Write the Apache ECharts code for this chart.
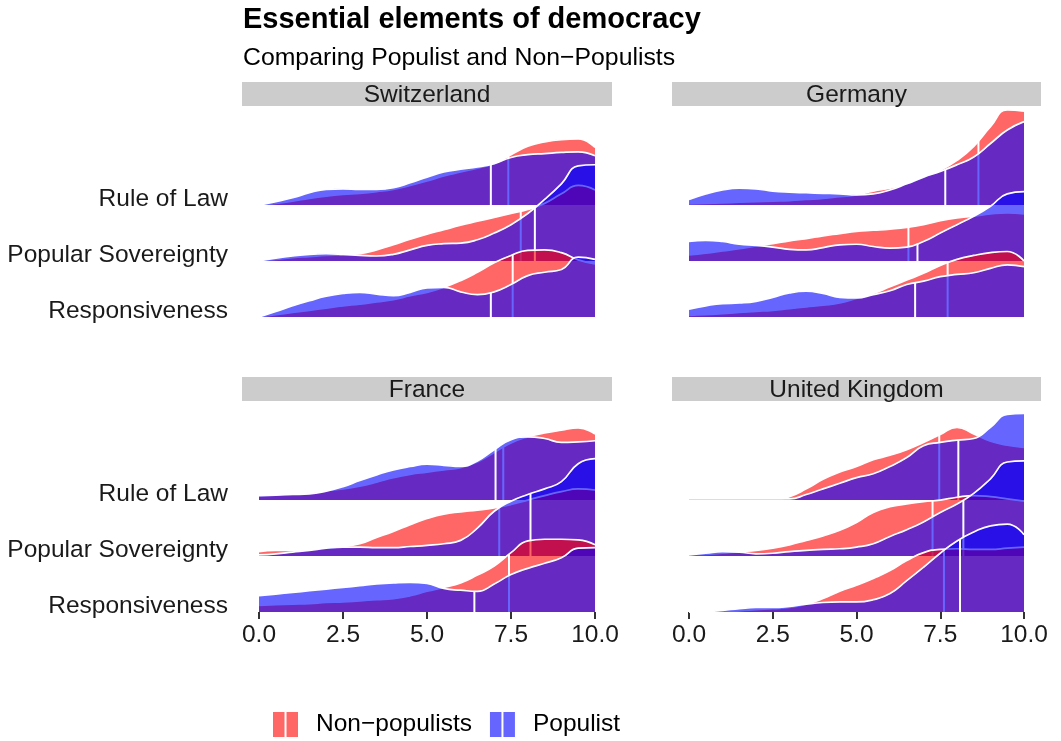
<!DOCTYPE html>
<html>
<head>
<meta charset="utf-8">
<script src="https://cdn.jsdelivr.net/npm/echarts@6/dist/echarts.min.js"></script>
<style>
  html, body { margin: 0; padding: 0; background: #fff; }
  #chart { width: 1061px; height: 741px; }
</style>
</head>
<body>
<div id="chart"></div>
<script>
// density grid (score 0..10)
const xs = [0, 0.5, 1, 1.5, 2, 2.5, 3, 3.5, 4, 4.5, 5, 5.5, 6, 6.5, 7, 7.5, 8, 8.5, 9, 9.5, 10];
const xTicks = [0, 2.5, 5, 7.5, 10];

const countries = ['Switzerland', 'Germany', 'France', 'United Kingdom'];
// ridges top -> bottom, sitting on y = 3, 2, 1
const ridgeNames = ['Rule of Law', 'Popular Sovereignty', 'Responsiveness'];
const ridgeBase = [3, 2, 1];
const groups = ['Non\u2212populists', 'Populist'];

// Switzerland
const chRuleNon = [0, 0.03, 0.07, 0.12, 0.16, 0.19, 0.21, 0.24, 0.28, 0.35, 0.43, 0.52, 0.59, 0.66, 0.74, 0.90, 1.05, 1.13, 1.17, 1.18, 1.03];
const chRulePop = [0, 0.06, 0.13, 0.22, 0.28, 0.29, 0.28, 0.28, 0.31, 0.40, 0.50, 0.59, 0.64, 0.68, 0.74, 0.85, 0.90, 0.92, 0.94, 0.95, 0.88];
const chSovNon  = [0, 0.03, 0.06, 0.08, 0.10, 0.11, 0.13, 0.20, 0.29, 0.39, 0.48, 0.56, 0.64, 0.71, 0.78, 0.85, 0.92, 1.03, 1.20, 1.35, 1.27];
const chSovPop  = [0, 0.05, 0.09, 0.12, 0.13, 0.12, 0.10, 0.09, 0.12, 0.20, 0.28, 0.31, 0.32, 0.38, 0.50, 0.65, 0.85, 1.10, 1.38, 1.70, 1.72];
const chRespNon = [0, 0.04, 0.08, 0.12, 0.16, 0.20, 0.23, 0.27, 0.31, 0.38, 0.44, 0.53, 0.65, 0.80, 0.97, 1.10, 1.19, 1.20, 1.15, 1.02, 0.95];
const chRespPop = [0, 0.10, 0.20, 0.29, 0.37, 0.42, 0.44, 0.41, 0.38, 0.44, 0.52, 0.53, 0.45, 0.40, 0.45, 0.58, 0.74, 0.80, 0.85, 1.07, 1.03];
const chMedNon = [7.42, 7.79, 7.55];
const chMedPop = [6.90, 8.21, 6.90];

// Germany
const deRuleNon = [0.02, 0.03, 0.04, 0.05, 0.06, 0.07, 0.08, 0.10, 0.12, 0.15, 0.18, 0.25, 0.30, 0.38, 0.50, 0.62, 0.80, 1.05, 1.40, 1.70, 1.68];
const deRulePop = [0.10, 0.20, 0.27, 0.30, 0.29, 0.25, 0.23, 0.22, 0.21, 0.20, 0.18, 0.20, 0.27, 0.38, 0.50, 0.60, 0.72, 0.86, 1.10, 1.34, 1.49];
const deSovNon  = [0.11, 0.14, 0.18, 0.22, 0.27, 0.31, 0.36, 0.40, 0.45, 0.49, 0.53, 0.55, 0.57, 0.60, 0.65, 0.72, 0.77, 0.80, 0.84, 0.86, 0.84];
const deSovPop  = [0.35, 0.37, 0.35, 0.30, 0.28, 0.25, 0.21, 0.20, 0.24, 0.29, 0.30, 0.26, 0.23, 0.25, 0.35, 0.50, 0.65, 0.80, 0.98, 1.20, 1.24];
const deRespNon = [0.03, 0.04, 0.06, 0.08, 0.10, 0.12, 0.15, 0.18, 0.21, 0.25, 0.33, 0.42, 0.54, 0.66, 0.78, 0.92, 1.03, 1.10, 1.15, 1.17, 1.00];
const deRespPop = [0.14, 0.20, 0.24, 0.25, 0.28, 0.35, 0.43, 0.46, 0.42, 0.35, 0.34, 0.40, 0.47, 0.58, 0.64, 0.72, 0.76, 0.79, 0.87, 0.93, 0.90];
const deMedNon = [8.64, 6.55, 7.72];
const deMedPop = [7.65, 6.82, 6.75];

// France
const frRuleNon = [0.08, 0.09, 0.10, 0.13, 0.17, 0.20, 0.25, 0.32, 0.40, 0.46, 0.50, 0.54, 0.58, 0.68, 0.85, 1.02, 1.13, 1.20, 1.25, 1.29, 1.18];
const frRulePop = [0.08, 0.09, 0.10, 0.11, 0.16, 0.24, 0.35, 0.45, 0.54, 0.60, 0.64, 0.62, 0.60, 0.70, 0.90, 1.08, 1.13, 1.10, 1.03, 1.04, 1.06];
const frSovNon  = [0.08, 0.10, 0.10, 0.12, 0.14, 0.17, 0.22, 0.33, 0.44, 0.56, 0.67, 0.75, 0.79, 0.82, 0.86, 0.92, 1.00, 1.08, 1.15, 1.20, 1.18];
const frSovPop  = [0.02, 0.04, 0.07, 0.10, 0.14, 0.16, 0.16, 0.15, 0.15, 0.17, 0.19, 0.22, 0.28, 0.50, 0.80, 0.98, 1.10, 1.20, 1.33, 1.65, 1.74];
const frRespNon = [0.12, 0.13, 0.14, 0.15, 0.17, 0.18, 0.20, 0.22, 0.24, 0.29, 0.37, 0.44, 0.52, 0.66, 0.82, 1.06, 1.27, 1.30, 1.30, 1.29, 1.20];
const frRespPop = [0.29, 0.32, 0.35, 0.38, 0.41, 0.44, 0.47, 0.50, 0.52, 0.53, 0.51, 0.42, 0.39, 0.37, 0.50, 0.67, 0.78, 0.87, 0.97, 1.14, 1.15];
const frMedNon = [7.27, 7.15, 7.44];
const frMedPop = [7.04, 8.08, 6.41];

// United Kingdom
const ukRuleNon = [0, 0, 0, 0, 0, 0, 0.06, 0.20, 0.37, 0.50, 0.60, 0.72, 0.80, 0.90, 1.03, 1.17, 1.30, 1.18, 1.05, 0.98, 0.94];
const ukRulePop = [0.02, 0.02, 0.02, 0.02, 0.02, 0.02, 0.02, 0.10, 0.20, 0.30, 0.40, 0.47, 0.60, 0.76, 0.97, 1.03, 1.07, 1.10, 1.30, 1.53, 1.55];
const ukSovNon  = [0.02, 0.03, 0.05, 0.08, 0.10, 0.14, 0.20, 0.28, 0.36, 0.46, 0.60, 0.78, 0.88, 0.93, 0.97, 1.00, 1.05, 1.08, 1.06, 1.02, 0.98];
const ukSovPop  = [0.02, 0.05, 0.08, 0.07, 0.04, 0.05, 0.08, 0.10, 0.12, 0.13, 0.16, 0.22, 0.35, 0.47, 0.61, 0.78, 0.93, 1.12, 1.38, 1.68, 1.70];
const ukRespNon = [0, 0, 0.01, 0.02, 0.04, 0.06, 0.08, 0.14, 0.24, 0.37, 0.48, 0.60, 0.74, 0.92, 1.06, 1.12, 1.13, 1.12, 1.12, 1.14, 1.16];
const ukRespPop = [0, 0.01, 0.03, 0.06, 0.08, 0.08, 0.10, 0.14, 0.17, 0.18, 0.18, 0.22, 0.33, 0.56, 0.80, 1.05, 1.27, 1.43, 1.54, 1.57, 1.38];
const ukMedNon = [7.47, 7.27, 7.61];
const ukMedPop = [8.04, 8.19, 8.09];

const FONT = "'Liberation Sans', Arial, Helvetica, sans-serif";
const fills = ['rgba(255,0,0,0.6)', 'rgba(0,0,255,0.6)'];

const curves = [
  [[chRuleNon, chRulePop], [chSovNon, chSovPop], [chRespNon, chRespPop]],
  [[deRuleNon, deRulePop], [deSovNon, deSovPop], [deRespNon, deRespPop]],
  [[frRuleNon, frRulePop], [frSovNon, frSovPop], [frRespNon, frRespPop]],
  [[ukRuleNon, ukRulePop], [ukSovNon, ukSovPop], [ukRespNon, ukRespPop]]
];
const medians = [
  [chMedNon, chMedPop], [deMedNon, deMedPop], [frMedNon, frMedPop], [ukMedNon, ukMedPop]
];

// panel layout
const panels = [
  {left: 259, top: 106, width: 336, xLab: false, yLab: true},
  {left: 689, top: 106, width: 335, xLab: false, yLab: false},
  {left: 259, top: 401, width: 336, xLab: true, yLab: true},
  {left: 689, top: 401, width: 335, xLab: true, yLab: false}
];
const panelH = 211;

// density height at v (for quantile line length)
function heightAt(dens, v) {
  let i = 0;
  while (i < xs.length - 2 && xs[i + 1] < v) i++;
  const t = (v - xs[i]) / (xs[i + 1] - xs[i]);
  return dens[i] + t * (dens[i + 1] - dens[i]);
}

const grids = [], xAxes = [], yAxes = [], series = [], graphics = [];
let z = 1;

panels.forEach((p, g) => {
  grids.push({left: p.left, top: p.top, width: p.width, height: panelH, containLabel: false});
  xAxes.push({
    type: 'value', gridIndex: g, min: 0, max: 10, interval: 2.5,
    axisLine: {show: false},
    splitLine: {show: false},
    axisTick: {show: p.xLab, length: 7, lineStyle: {color: '#333', width: 2}},
    axisLabel: {
      show: p.xLab, margin: 11, fontSize: 24.5, fontFamily: FONT, color: '#1a1a1a',
      formatter: v => xTicks.indexOf(v) >= 0 ? v.toFixed(1) : ''
    }
  });
  yAxes.push({
    type: 'value', gridIndex: g, min: 1, max: 4.77, interval: 1,
    axisLine: {show: false}, axisTick: {show: false}, splitLine: {show: false},
    axisLabel: {
      show: p.yLab, margin: 31, fontSize: 24.5, fontFamily: FONT, color: '#1a1a1a',
      verticalAlign: 'bottom', lineHeight: 12,
      formatter: v => { const i = ridgeBase.indexOf(v); return i >= 0 ? ridgeNames[i] : ''; }
    }
  });

  // facet strip
  graphics.push({
    type: 'rect', z: 0,
    shape: {x: p.left - 17, y: p.top - 24, width: p.width + 34, height: 24},
    style: {fill: '#CCCCCC'}
  });
  graphics.push({
    type: 'text', z: 1, x: p.left + p.width / 2, y: p.top - 11,
    style: {text: countries[g], fontSize: 24.5, fontFamily: FONT, fill: '#1a1a1a', align: 'center', verticalAlign: 'middle'}
  });

  ridgeBase.forEach((base, r) => {
    [0, 1].forEach(k => {
      const dens = curves[g][r][k];
      const key = 'p' + g + 'r' + r + 'k' + k;
      // density raised onto its ridge baseline, area filled down to that baseline
      series.push({
        type: 'line', name: groups[k], xAxisIndex: g, yAxisIndex: g, z: z++,
        data: xs.map((x, i) => [x, base + dens[i]]),
        smooth: 0.5, symbol: 'none', clip: false, silent: true,
        itemStyle: {color: fills[k]},
        lineStyle: {color: '#ffffff', width: 1.7},
        areaStyle: {color: fills[k], opacity: 1, origin: base}
      });
      series.push({
        type: 'custom', name: key + 'median', xAxisIndex: g, yAxisIndex: g, z: z++,
        data: [[medians[g][k][r], base]], silent: true, clip: false,
        renderItem: (params, api) => {
          const m = api.value(0), b = api.value(1);
          const p0 = api.coord([m, b]);
          const p1 = api.coord([m, b + heightAt(dens, m)]);
          return {type: 'line', shape: {x1: p0[0], y1: p0[1], x2: p1[0], y2: p1[1]},
                  style: {stroke: '#ffffff', lineWidth: 2}};
        }
      });
    });
  });
});

const chart = echarts.init(document.getElementById('chart'));
chart.setOption({
  animation: false,
  backgroundColor: '#ffffff',
  title: {
    text: 'Essential elements of democracy',
    subtext: 'Comparing Populist and Non\u2212Populists',
    left: 238, top: 0, itemGap: 12,
    textStyle: {fontSize: 29, fontWeight: 'bold', fontFamily: FONT, color: '#000'},
    subtextStyle: {fontSize: 24.8, fontFamily: FONT, color: '#000'}
  },
  legend: {
    left: 273, top: 712, padding: 0, itemWidth: 25, itemHeight: 25, itemGap: 18,
    selectedMode: false,
    icon: 'path://M0,0L11.5,0L11.5,25L0,25Z M13.5,0L25,0L25,25L13.5,25Z',
    itemStyle: {borderWidth: 0},
    textStyle: {fontSize: 24.5, fontFamily: FONT, color: '#000', padding: [0, 0, 0, 13]},
    data: [
      {name: groups[0], itemStyle: {color: fills[0]}},
      {name: groups[1], itemStyle: {color: fills[1]}}
    ]
  },
  grid: grids,
  xAxis: xAxes,
  yAxis: yAxes,
  graphic: graphics,
  series: series
});
</script>
</body>
</html>
